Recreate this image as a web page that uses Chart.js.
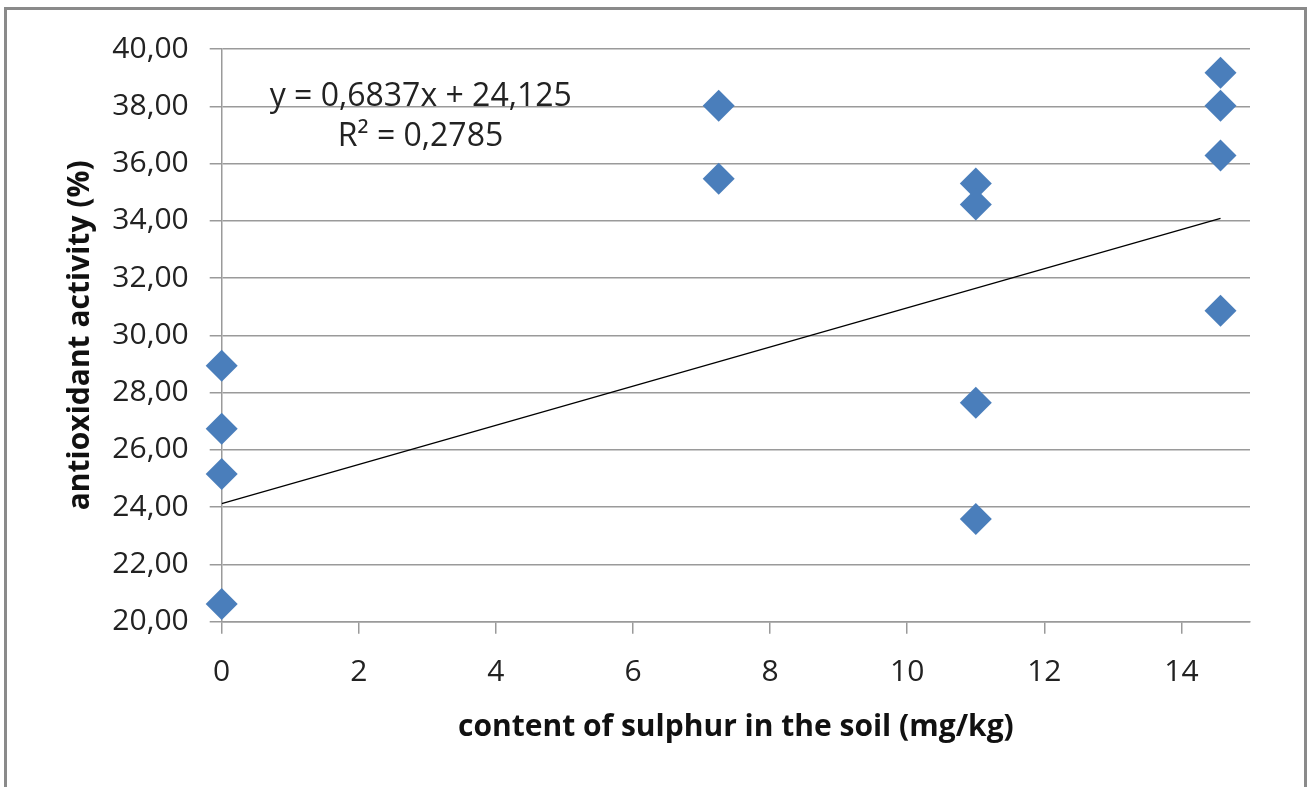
<!DOCTYPE html>
<html>
<head>
<meta charset="utf-8">
<script src="https://cdn.jsdelivr.net/npm/chart.js@4"></script>
<style>
  html, body { margin: 0; padding: 0; background: #fff; }
  #wrap { width: 1312px; height: 787px; position: relative; }
</style>
</head>
<body>
<div id="wrap"><canvas id="myChart"></canvas></div>
<script>
// sulphur content (mg/kg) and antioxidant activity (%)
const sulphurX = [0, 0, 0, 0, 7.25, 7.25, 11, 11, 11, 11, 14.57, 14.57, 14.57, 14.57];
const activityY = [28.94, 26.74, 25.16, 20.62, 38.02, 35.47, 35.30, 34.57, 27.65, 23.59, 39.17, 38.02, 36.28, 30.86];

// linear trend as reported on the chart
const slope = 0.6837;
const intercept = 24.125;
const trendX = [0, 14.57];
const eqLabel = 'y = 0,6837x + 24,125';
const r2Label = 'R\u00b2 = 0,2785';

const xTicks = [0, 2, 4, 6, 8, 10, 12, 14];

const GRID = '#9a9a9a';
const FONT = 'Open Sans';

const frame = {
    id: 'frame',
    beforeDraw(chart) {
        const c = chart.ctx;
        c.save();
        c.fillStyle = '#fff';
        c.fillRect(0, 0, chart.width, chart.height);
        c.strokeStyle = '#8a8a8a';
        c.lineWidth = 3;
        c.strokeRect(5.5, 8.5, 1300, 800);
        c.restore();
    },
    afterDraw(chart) {
        const c = chart.ctx;
        const a = chart.chartArea;
        c.save();
        c.fillStyle = '#222';
        c.font = '32px "' + FONT + '"';
        c.textAlign = 'left';
        c.textBaseline = 'middle';
        c.fillText(eqLabel, a.left + 48, 97);
        c.fillText(r2Label, a.left + 116, 137);
        c.restore();
    }
};

const ctx = document.getElementById('myChart');
const PLOT = new Chart(ctx, {
    type: 'scatter',
    data: {
        datasets: [{
            label: 'activity',
            data: sulphurX.map((x, i) => ({x: x, y: activityY[i]})),
            pointStyle: 'rectRot',
            pointRadius: 16,
            pointHoverRadius: 16,
            backgroundColor: '#4a7ebb',
            borderColor: '#4a7ebb',
            borderWidth: 0,
            clip: false,
            order: 1
        }, {
            label: 'trend',
            type: 'line',
            data: trendX.map(x => ({x: x, y: slope * x + intercept})),
            borderColor: '#000',
            borderWidth: 1.3,
            pointRadius: 0,
            fill: false,
            order: 2
        }]
    },
    options: {
        responsive: true,
        maintainAspectRatio: false,
        animation: false,
        layout: { padding: { top: 49, right: 62, left: 0, bottom: 0 } },
        plugins: {
            legend: { display: false },
            tooltip: { enabled: false }
        },
        scales: {
            x: {
                type: 'linear',
                min: 0,
                max: 15,
                afterBuildTicks: s => { s.ticks = xTicks.map(v => ({value: v})); },
                afterFit: s => { s.height = 787 - 621.7; },
                grid: { drawOnChartArea: false, drawTicks: true, tickLength: 12, color: GRID, lineWidth: 1.5 },
                border: { color: GRID, width: 1.5 },
                ticks: { color: '#222', font: { family: FONT, size: 30 }, padding: 21, maxRotation: 0 },
                title: {
                    display: true,
                    text: 'content of sulphur in the soil (mg/kg)',
                    color: '#111',
                    font: { family: FONT, size: 30, weight: 'bold' },
                    padding: { bottom: 42 }
                }
            },
            y: {
                min: 20,
                max: 40,
                afterFit: s => { s.width = 221.7; },
                ticks: {
                    stepSize: 2,
                    color: '#222',
                    font: { family: FONT, size: 30 },
                    padding: 21,
                    callback: v => v.toFixed(2).replace('.', ',')
                },
                grid: { color: GRID, lineWidth: 1.5, tickLength: 12 },
                border: { color: GRID, width: 1.5 },
                title: {
                    display: true,
                    text: 'antioxidant activity (%)',
                    color: '#111',
                    font: { family: FONT, size: 30, weight: 'bold' },
                    padding: { top: 62 }
                }
            }
        }
    },
    plugins: [frame]
});
</script>
</body>
</html>
